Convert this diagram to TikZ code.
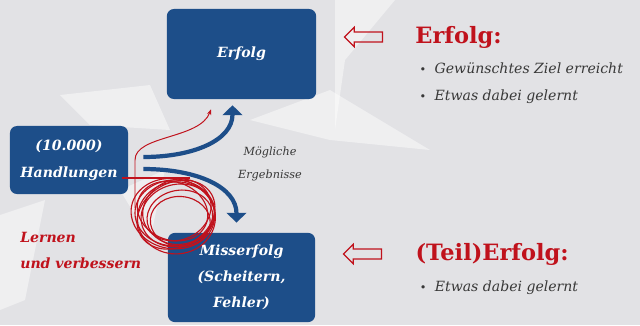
\documentclass[tikz,border=0pt]{standalone}
\usepackage{fontspec}
\setmainfont{DejaVu Serif}
\usetikzlibrary{positioning,arrows.meta,calc,shapes.arrows}
\definecolor{navy700}{HTML}{1D4E89}
\definecolor{red700} {HTML}{C0121C}
\definecolor{grey800}{HTML}{383838}
\definecolor{bg100}  {HTML}{E2E2E5}
\tikzset{
  box/.style   ={fill=navy700, draw=none, rounded corners=5pt, align=center,
                 text=white, inner sep=4pt,
                 font=\bfseries\itshape\fontsize{10}{19}\selectfont},
  flow/.style  ={-{Triangle[length=7pt,width=14pt]}, draw=navy700,
                 line width=3pt},
  hollow/.style={single arrow, draw=red700, line width=0.8pt, fill=none,
                 shape border rotate=180, minimum height=0.95cm,
                 inner xsep=0pt, inner ysep=0.11cm,
                 single arrow head extend=0.12cm},
  head/.style  ={font=\bfseries\fontsize{16}{18}\selectfont, text=red700,
                 inner sep=0pt},
  items/.style ={font=\itshape\fontsize{10}{19}\selectfont, text=grey800,
                 align=left, inner sep=0pt},
  tag/.style   ={font=\itshape\fontsize{8}{16}\selectfont, text=grey800,
                 align=center},
  learn/.style ={font=\bfseries\itshape\fontsize{10}{18.5}\selectfont,
                 text=red700, align=left, inner sep=0pt},
  scrib/.style ={draw=red700, line width=0.8pt},
  redar/.style ={-{Stealth[length=4pt]}, draw=red700, line width=0.7pt},
  shard/.style ={fill=white, opacity=0.45, draw=none}
}
\newcommand{\bul}{{\upshape\footnotesize\textbullet}\hspace{6pt}}

\begin{document}
\begin{tikzpicture}[x=0.025cm, y=-0.025cm]
\fill[bg100] (0,0) rectangle (640,325);
\useasboundingbox (0,0) rectangle (640,325);

% origami shards in the background
\fill[shard] (335,0) -- (395,0) -- (345,60) -- (335,130) -- cycle;
\fill[shard] (250,120) -- (330,90) -- (430,150) -- (330,140) -- cycle;
\fill[shard] (0,215) -- (45,200) -- (25,300) -- (0,310) -- cycle;
\fill[shard] (60,95) -- (150,85) -- (170,130) -- (90,125) -- cycle;
\fill[shard] (120,190) -- (165,170) -- (150,240) -- cycle;

% the three boxes
\node[box, minimum width=3.73cm, minimum height=2.25cm] (erfolg)
  at (241.5,54) {Erfolg};
\node[box, minimum width=2.95cm, minimum height=1.7cm] (handl)
  at (69,160) {(10.000)\\Handlungen};
\node[box, minimum width=3.68cm, minimum height=2.23cm,
      font=\bfseries\itshape\fontsize{10}{18.5}\selectfont] (miss)
  at (241.5,277.5) {Misserfolg\\(Scheitern,\\Fehler)};

\draw[flow] ($(handl.east)+(15,-3)$) .. controls +(50,0) and +(0,35)
  .. ($(erfolg.south)+(-9,6)$);
\draw[flow] ($(handl.east)+(15,9)$) .. controls +(55,0) and +(0,-35)
  .. ($(miss.north)+(-5,-10)$);
\node[tag] (tag) at (270,164) {Mögliche\\Ergebnisse};

% learning loop
\coordinate (loop) at (175,213);
\foreach \a/\rx/\ry/\dx/\dy in {0/40/33/0/0, 15/37/31/2/3, -10/42/35/-2/1,
    25/35/30/3/-2, 5/39/36/1/5, -20/36/29/-3/-1, 10/33/27/4/5, 30/41/32/0/2,
    -5/30/25/6/8}
  \draw[scrib, rotate around={\a:(loop)}] ($(loop)+(\dx,\dy)$)
    ellipse [x radius=\rx, y radius=\ry];
\draw[scrib] ($(handl.east)+(-6,18)$) -- ($(loop)+(15,-35)$);
\draw[redar] ($(loop)+(-40,-5)$) -- ($(loop)+(-40,-53)$)
  .. controls +(0,-25) and +(-11,30) .. ($(erfolg.south)+(-30.5,10)$);
\node[learn, anchor=west] (learn) at (20,250) {Lernen\\und verbessern};

% right column
\node[hollow] (ptr1) at (366,37) {};
\node[hollow] (ptr2) at (365,254) {};
\node[head, right=0.8cm of ptr1] (h1) {Erfolg:};
\node[items, below=0.36cm of h1.south west, anchor=north west, xshift=3pt]
  (l1) {\bul Gewünschtes Ziel erreicht\\\bul Etwas dabei gelernt};
\node[head, right=0.83cm of ptr2] (h2) {(Teil)Erfolg:};
\node[items, below=0.38cm of h2.south west, anchor=north west, xshift=3pt]
  (l2) {\bul Etwas dabei gelernt};
\end{tikzpicture}
\end{document}
